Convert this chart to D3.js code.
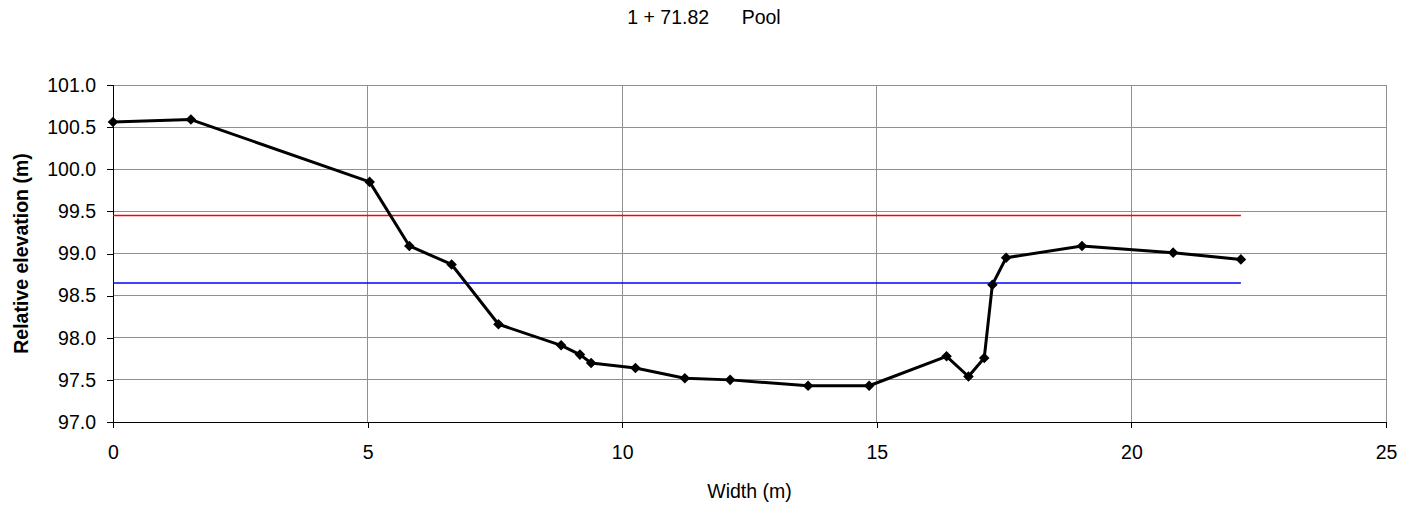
<!DOCTYPE html>
<html>
<head>
<meta charset="utf-8">
<script src="https://cdn.jsdelivr.net/npm/d3@7"></script>
<style>
  body { margin: 0; background: #fff; }
  svg { display: block; font-family: "Liberation Sans", Arial, sans-serif; }
</style>
</head>
<body>
<svg id="chart" width="1408" height="506"></svg>
<script>
// Cross section profile: station 1 + 71.82, pool

const widths = [0, 1.53, 5.04, 5.82, 6.65, 7.57, 8.80, 9.17, 9.39, 10.26, 11.23, 12.12, 13.65, 14.85, 16.37, 16.80, 17.11, 17.27, 17.54, 19.03, 20.82, 22.15];
const elevations = [100.56, 100.59, 99.85, 99.09, 98.87, 98.16, 97.91, 97.80, 97.70, 97.64, 97.52, 97.50, 97.43, 97.43, 97.78, 97.54, 97.76, 98.63, 98.95, 99.09, 99.01, 98.93];
const redLevel = 99.45;   // upper horizontal level
const blueLevel = 98.65;  // lower horizontal level
const levelExtent = [0, 22.15];
const xTicks = [0, 5, 10, 15, 20, 25];
const yTicks = [97.0, 97.5, 98.0, 98.5, 99.0, 99.5, 100.0, 100.5, 101.0];

const width = 1408, height = 506;
const margin = { top: 85, right: 22, bottom: 84, left: 113 };

const svg = d3.select("#chart");

const x = d3.scaleLinear()
  .domain([0, 25])
  .range([margin.left, width - margin.right]);

const y = d3.scaleLinear()
  .domain([97, 101])
  .range([height - margin.bottom, margin.top]);

const data = widths.map((w, i) => ({ w, e: elevations[i] }));

// Gridlines
const grid = svg.append("g").attr("shape-rendering", "crispEdges");
grid.selectAll("line.h")
  .data(yTicks)
  .join("line")
  .attr("class", "h")
  .attr("x1", x(0)).attr("x2", x(25))
  .attr("y1", d => y(d)).attr("y2", d => y(d))
  .attr("stroke", "#8f8f8f");
grid.selectAll("line.v")
  .data(xTicks)
  .join("line")
  .attr("class", "v")
  .attr("x1", d => x(d)).attr("x2", d => x(d))
  .attr("y1", y(97)).attr("y2", y(101))
  .attr("stroke", "#8f8f8f");

// Axes
const yAxis = d3.axisLeft(y)
  .tickValues(yTicks)
  .tickFormat(d3.format(".1f"))
  .tickSize(6)
  .tickPadding(11);

const xAxis = d3.axisBottom(x)
  .tickValues(xTicks)
  .tickFormat(d3.format("d"))
  .tickSize(6)
  .tickPadding(17);

const gy = svg.append("g")
  .attr("transform", `translate(${margin.left},0)`)
  .attr("shape-rendering", "crispEdges")
  .call(yAxis);

const gx = svg.append("g")
  .attr("transform", `translate(0,${height - margin.bottom})`)
  .attr("shape-rendering", "crispEdges")
  .call(xAxis);

[gx, gy].forEach(g => {
  g.select(".domain").attr("stroke", "#000");
  g.selectAll(".tick line").attr("stroke", "#000");
  g.selectAll(".tick text")
    .attr("fill", "#000")
    .style("font-size", "19.5px")
    .attr("shape-rendering", null);
});

// Horizontal level lines
const levelLine = d3.line()
  .x(d => x(d))
  .y(0);

svg.append("line")
  .attr("x1", x(levelExtent[0])).attr("x2", x(levelExtent[1]))
  .attr("y1", y(redLevel)).attr("y2", y(redLevel))
  .attr("stroke", "#ff0000")
  .attr("stroke-width", 1.5);

svg.append("line")
  .attr("x1", x(levelExtent[0])).attr("x2", x(levelExtent[1]))
  .attr("y1", y(blueLevel)).attr("y2", y(blueLevel))
  .attr("stroke", "#0000ff")
  .attr("stroke-width", 1.5);

// Profile line
const line = d3.line()
  .x(d => x(d.w))
  .y(d => y(d.e));

svg.append("path")
  .datum(data)
  .attr("fill", "none")
  .attr("stroke", "#000")
  .attr("stroke-width", 3)
  .attr("stroke-linejoin", "round")
  .attr("d", line);

// Diamond markers
const diamond = d3.symbol().type(d3.symbolSquare).size(56);
svg.selectAll("path.marker")
  .data(data)
  .join("path")
  .attr("class", "marker")
  .attr("d", diamond)
  .attr("transform", d => `translate(${x(d.w)},${y(d.e)}) rotate(45)`)
  .attr("fill", "#000");

// Title
svg.append("text")
  .attr("x", width / 2)
  .attr("y", 24)
  .attr("text-anchor", "middle")
  .style("font-size", "19.5px")
  .style("white-space", "pre")
  .attr("xml:space", "preserve")
  .text("1 + 71.82      Pool");

// X axis label
svg.append("text")
  .attr("x", (x(0) + x(25)) / 2)
  .attr("y", 498)
  .attr("text-anchor", "middle")
  .style("font-size", "19.5px")
  .text("Width (m)");

// Y axis label
svg.append("text")
  .attr("transform", "rotate(-90)")
  .attr("x", -(y(97) + y(101)) / 2)
  .attr("y", 28)
  .attr("text-anchor", "middle")
  .style("font-size", "19.5px")
  .style("font-weight", "bold")
  .text("Relative elevation (m)");
</script>
</body>
</html>
